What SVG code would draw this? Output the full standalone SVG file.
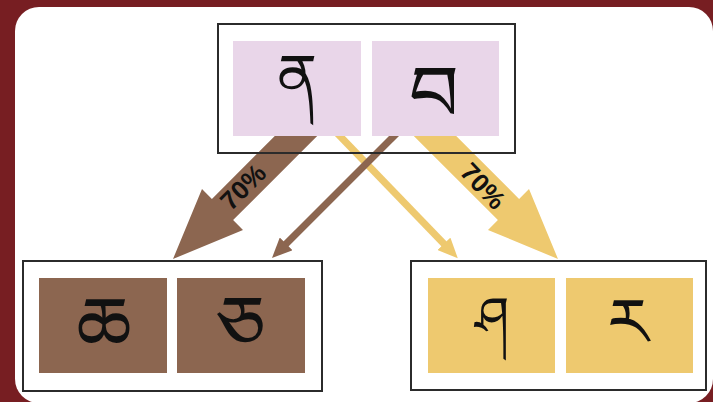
<svg xmlns="http://www.w3.org/2000/svg" width="713" height="402" viewBox="0 0 713 402">
  <style>
    .frame { fill: none; stroke: #2b2b2b; stroke-width: 2; }
    .pink { fill: #e9d6e9; }
    .brown { fill: #8c6650; }
    .gold { fill: #eec96f; }
    .glyph { font-family: "Noto Sans Tibetan", "Noto Serif Tibetan", "Jomolhari", "Microsoft Himalaya", "Noto Sans", "DejaVu Sans", sans-serif; fill: #111; text-anchor: middle; dominant-baseline: central; }
    .pct { font-family: "Liberation Sans", Arial, sans-serif; font-weight: bold; font-size: 26px; fill: #111; text-anchor: middle; dominant-baseline: central; }
  </style>
  <defs>
    <marker id="head-brown" markerUnits="userSpaceOnUse" markerWidth="22" markerHeight="18" refX="2" refY="9" orient="auto">
      <path d="M0,0 L20,9 L0,18 z" fill="#8c6650"/>
    </marker>
    <marker id="head-gold" markerUnits="userSpaceOnUse" markerWidth="22" markerHeight="18" refX="2" refY="9" orient="auto">
      <path d="M0,0 L20,9 L0,18 z" fill="#eec96f"/>
    </marker>
  </defs>

  <!-- page -->
  <rect x="0" y="0" width="713" height="402" fill="#771e22"/>
  <rect x="15" y="7" width="698" height="396" rx="24" fill="#ffffff"/>

  <!-- connectors -->
  <g id="connectors">
    <line x1="336" y1="132" x2="445.3" y2="245.3" stroke="#eec96f" stroke-width="7" marker-end="url(#head-gold)"/>
    <polygon class="gold" points="413.8,136 456.2,136 519.1,198.9 529,189 558,259 488,230 497.9,220.1"/>
    <polygon class="brown" points="274.8,136 317.2,136 233.1,220.1 243,230 173,259 202,189 211.9,198.9"/>
    <line x1="398" y1="132" x2="284.7" y2="245.3" stroke="#8c6650" stroke-width="7" marker-end="url(#head-brown)"/>
    <text class="pct" transform="translate(243,187) rotate(-45)">70%</text>
    <text class="pct" transform="translate(483,186) rotate(47)">70%</text>
  </g>

  <!-- top pair -->
  <g id="node-top">
    <rect class="pink" x="233" y="41" width="128" height="95"/>
    <rect class="pink" x="372" y="41" width="127" height="95"/>
    <rect class="frame" x="218" y="24" width="297" height="129"/>
    <text class="glyph" x="297" y="93" style="font-size:60px">ན</text>
    <text class="glyph" x="434" y="116" style="font-size:78px">བ</text>
  </g>

  <!-- lower left pair -->
  <g id="node-left">
    <rect class="brown" x="39" y="278" width="128" height="95"/>
    <rect class="brown" x="177" y="278" width="128" height="95"/>
    <rect class="frame" x="23" y="261" width="299" height="130"/>
    <text class="glyph" x="104" y="347" style="font-size:78px">ཆ</text>
    <text class="glyph" x="241" y="346" style="font-size:78px">ཅ</text>
  </g>

  <!-- lower right pair -->
  <g id="node-right">
    <rect class="gold" x="428" y="278" width="127" height="95"/>
    <rect class="gold" x="566" y="278" width="127" height="95"/>
    <rect class="frame" x="411" y="261" width="295" height="129"/>
    <text class="glyph" x="492" y="332" style="font-size:54px">ཤ</text>
    <text class="glyph" x="628" y="341" style="font-size:66px">ར</text>
  </g>
</svg>
